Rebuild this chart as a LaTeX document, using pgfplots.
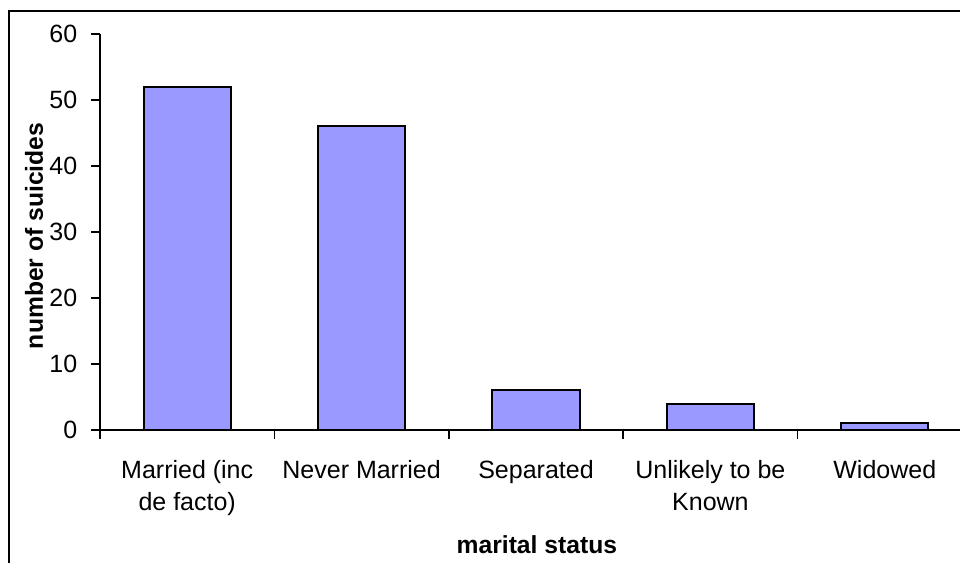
\documentclass[border=0pt]{standalone}
\usepackage{pgfplots}
\pgfplotsset{compat=1.18}
\usepackage{fontspec}
\setmainfont{Liberation Sans}
\definecolor{barblue}{HTML}{9999FF}
\begin{document}
\begin{tikzpicture}
\useasboundingbox (0pt,0pt) rectangle (720pt,421.5pt);
\clip (0pt,0pt) rectangle (720pt,421.5pt);
\draw[line width=1.8pt] (6.75pt,-15pt) rectangle (740pt,413.25pt);
\begin{axis}[
  at={(75pt,99pt)}, anchor=south west,
  scale only axis, width=654pt, height=297pt,
  xmin=-0.5, xmax=4.5, ymin=0, ymax=60,
  axis x line*=bottom, axis y line*=left,
  axis line style={line width=1.3pt, -},
  ytick={0,10,...,60},
  xtick={-0.5,0.5,...,4.5},
  xticklabels={{Married (inc\\de facto)},{Never Married},{Separated},{Unlikely to be\\Known},{Widowed}},
  x tick label as interval,
  tick align=outside,
  major tick length=6.5pt,
  tick style={line width=1.3pt, black},
  /pgf/number format/assume math mode=true,
  ticklabel style={font=\fontsize{18.75}{24}\selectfont},
  xticklabel style={align=center, anchor=north, yshift=-13pt},
  yticklabel style={anchor=east, xshift=-7pt},
  xlabel={\bfseries marital status},
  ylabel={\bfseries number of suicides},
  label style={font=\fontsize{18.5}{22}\selectfont},
  xlabel style={at={(axis description cs:0.501,-0.3106)}, anchor=base},
  ylabel style={at={(axis description cs:-0.0654,0.49)}, anchor=base, rotate=0},
]
\addplot[ybar, bar width=0.5, fill=barblue, draw=black, line width=1.4pt]
  coordinates {(0,52) (1,46) (2,6) (3,4) (4,1)};
\end{axis}
\end{tikzpicture}
\end{document}
